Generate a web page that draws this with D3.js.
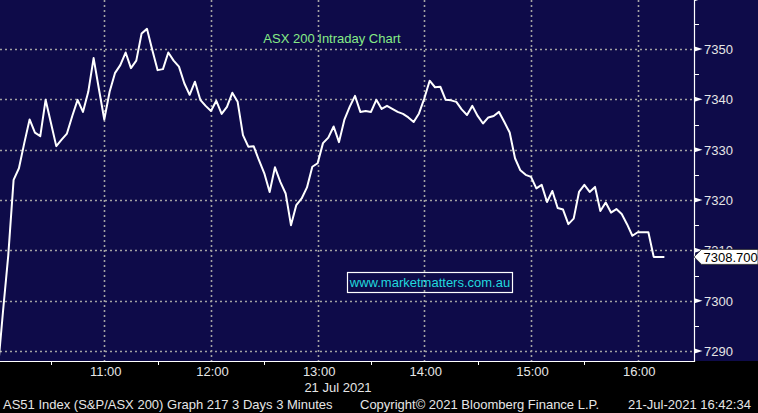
<!DOCTYPE html>
<html>
<head>
<meta charset="utf-8">
<script src="https://d3js.org/d3.v7.min.js"></script>
<style>
    html, body { margin: 0; padding: 0; background: #000; }
    svg { display: block; }
    text { font-family: "Liberation Sans", Arial, sans-serif; }
</style>
</head>
<body>
<svg id="chart" width="758" height="413"></svg>
<script>
/** ASX 200 index level, one reading every 3 minutes from 10:00 */
var prices = [
    7285.8, 7297.7, 7309.0, 7324.0, 7326.3, 7331.3, 7336.0, 7333.4, 7332.7, 7339.9,
    7335.3, 7330.7, 7332.0, 7333.2, 7336.7, 7339.9, 7337.5, 7341.5, 7348.2, 7342.0,
    7336.0, 7341.5, 7345.2, 7346.8, 7349.3, 7346.2, 7347.7, 7353.1, 7354.0, 7349.8,
    7345.8, 7346.0, 7349.3, 7347.7, 7346.5, 7343.2, 7340.9, 7343.5, 7339.9, 7338.7,
    7337.7, 7339.7, 7337.1, 7338.5, 7341.3, 7339.5, 7332.9, 7330.6, 7330.7, 7327.9,
    7325.3, 7321.6, 7326.5, 7323.6, 7321.3, 7315.0, 7319.0, 7320.3, 7322.5, 7326.6,
    7327.3, 7331.3, 7332.4, 7334.6, 7331.5, 7335.9, 7338.5, 7340.7, 7337.5, 7337.7,
    7337.5, 7339.9, 7338.1, 7338.7, 7338.1, 7337.5, 7337.1, 7336.4, 7335.5, 7337.2,
    7340.2, 7343.7, 7342.4, 7342.5, 7339.9, 7339.8, 7339.5, 7338.0, 7336.9, 7338.7,
    7336.7, 7335.2, 7336.4, 7336.7, 7337.5, 7335.5, 7333.4, 7328.3, 7325.9, 7325.0,
    7324.6, 7322.3, 7323.0, 7319.6, 7321.8, 7318.4, 7318.1, 7315.2, 7316.3, 7321.6,
    7323.0, 7321.6, 7322.6, 7317.8, 7319.5, 7317.5, 7318.2, 7317.2, 7315.2, 7312.9,
    7313.6, 7313.6, 7313.6, 7308.7, 7308.7, 7308.7
];

/** Session start and bar size */
var sessionStart = new Date(2021, 6, 21, 10, 0),
    barMinutes = 3;

/** Axis labels */
var hourLabels = ['11:00', '12:00', '13:00', '14:00', '15:00', '16:00'];
var halfHourLabels = ['10:30', '11:30', '12:30', '13:30', '14:30', '15:30'];
var levelTicks = [7290, 7300, 7310, 7320, 7330, 7340, 7350, 7360];
var minorLevelTicks = [7295, 7305, 7315, 7325, 7335, 7345, 7355];
var lastPrice = 7308.7;

var titleText = 'ASX 200 Intraday Chart',
    watermarkText = 'www.marketmatters.com.au',
    dateText = '21 Jul 2021',
    footerLeft = 'AS51 Index (S&P/ASX 200) Graph 217 3 Days 3 Minutes',
    footerMid = 'Copyright\u00a9 2021 Bloomberg Finance L.P.',
    footerRight = '21-Jul-2021 16:42:34';

/** Layout */
var plotRight = 694.5,
    plotBottom = 361;

var svg = d3.select('#chart');
var defs = svg.append('defs');

var parseHM = d3.timeParse('%Y-%m-%d %H:%M');
function hm(s) {
    return parseHM('2021-07-21 ' + s);
}

var x = d3.scaleTime()
    .domain([hm('10:00'), hm('16:00')])
    .range([-2.4, 637.7]);

var y = d3.scaleLinear()
    .domain([7290, 7350])
    .range([351, 49]);

var data = prices.map(function (p, i) {
    return {t: d3.timeMinute.offset(sessionStart, i * barMinutes), v: p};
});

var tagY = y(lastPrice),
    tagHalf = 7.5;

// backgrounds
svg.append('rect')
    .attr('width', 758).attr('height', 413)
    .attr('fill', '#000');
svg.append('rect')
    .attr('width', 758).attr('height', plotBottom)
    .attr('fill', '#0e0b49');

defs.append('clipPath').attr('id', 'plotClip')
    .append('rect')
    .attr('width', plotRight).attr('height', plotBottom);

// dotted grid
var grid = svg.append('g')
    .attr('stroke', '#a3a3a3')
    .attr('stroke-width', 1.6)
    .attr('stroke-dasharray', '2,3');

grid.selectAll('.hgrid').data(levelTicks.filter(function (d) { return d < 7355; }))
    .enter().append('line')
    .attr('x1', 0).attr('x2', plotRight)
    .attr('y1', function (d) { return Math.round(y(d)) + 0.5; })
    .attr('y2', function (d) { return Math.round(y(d)) + 0.5; });

grid.selectAll('.vgrid').data(hourLabels)
    .enter().append('line')
    .attr('x1', function (d) { return Math.round(x(hm(d))) + 0.5; })
    .attr('x2', function (d) { return Math.round(x(hm(d))) + 0.5; })
    .attr('y1', 0).attr('y2', plotBottom);

// title
svg.append('text')
    .attr('x', 332).attr('y', 43)
    .attr('text-anchor', 'middle')
    .attr('font-size', 13)
    .attr('fill', '#86ec86')
    .text(titleText);

// watermark box
svg.append('rect')
    .attr('x', 347.5).attr('y', 272.5)
    .attr('width', 165).attr('height', 20)
    .attr('fill', 'none')
    .attr('stroke', '#ffffff')
    .attr('stroke-width', 1.2);
svg.append('text')
    .attr('x', 430).attr('y', 287)
    .attr('text-anchor', 'middle')
    .attr('font-size', 13)
    .attr('fill', '#21d8de')
    .text(watermarkText);

// price line
var line = d3.line()
    .x(function (d) { return x(d.t); })
    .y(function (d) { return y(d.v); });

svg.append('path')
    .datum(data)
    .attr('clip-path', 'url(#plotClip)')
    .attr('d', line)
    .attr('fill', 'none')
    .attr('stroke', '#ffffff')
    .attr('stroke-width', 2)
    .attr('stroke-linejoin', 'round');

// axis lines
svg.append('line')
    .attr('x1', 0).attr('x2', plotRight)
    .attr('y1', plotBottom + 0.5).attr('y2', plotBottom + 0.5)
    .attr('stroke', '#ffffff').attr('stroke-width', 1.2);
svg.append('line')
    .attr('x1', plotRight).attr('x2', plotRight)
    .attr('y1', 0).attr('y2', plotBottom + 1)
    .attr('stroke', '#ffffff').attr('stroke-width', 1.2);

// bottom ticks at half hours
svg.selectAll('.xtick').data(halfHourLabels)
    .enter().append('line')
    .attr('x1', function (d) { return Math.round(x(hm(d))) + 0.5; })
    .attr('x2', function (d) { return Math.round(x(hm(d))) + 0.5; })
    .attr('y1', plotBottom).attr('y2', plotBottom + 4)
    .attr('stroke', '#ffffff').attr('stroke-width', 1);

svg.selectAll('.xlabel').data(hourLabels)
    .enter().append('text')
    .attr('x', function (d) { return x(hm(d)) + 1.5; })
    .attr('y', 376)
    .attr('text-anchor', 'middle')
    .attr('font-size', 13)
    .attr('fill', '#e6e6e6')
    .text(function (d) { return d; });

svg.append('text')
    .attr('x', 338).attr('y', 392)
    .attr('text-anchor', 'middle')
    .attr('font-size', 13)
    .attr('fill', '#e6e6e6')
    .text(dateText);

// right axis ticks: arrows on majors, short lines on minors
defs.append('clipPath').attr('id', 'rightClip')
    .append('rect').attr('x', plotRight).attr('width', 70).attr('height', plotBottom + 1);
// the label hidden behind the price tag only shows above it
defs.append('clipPath').attr('id', 'aboveTag')
    .append('rect').attr('x', plotRight).attr('width', 70).attr('height', tagY - tagHalf);

var yAxis = svg.append('g').attr('clip-path', 'url(#rightClip)');

yAxis.selectAll('.ytick').data(levelTicks)
    .enter().append('path')
    .attr('d', function (d) {
        var yy = y(d);
        return 'M' + plotRight + ',' + (yy - 2.5) + 'L' + (plotRight + 8) + ',' + yy +
            'L' + plotRight + ',' + (yy + 2.5) + 'Z';
    })
    .attr('fill', '#ffffff');

yAxis.selectAll('.yminor').data(minorLevelTicks)
    .enter().append('line')
    .attr('x1', plotRight).attr('x2', plotRight + 4.5)
    .attr('y1', function (d) { return Math.round(y(d)) + 0.5; })
    .attr('y2', function (d) { return Math.round(y(d)) + 0.5; })
    .attr('stroke', '#ffffff').attr('stroke-width', 1);

yAxis.selectAll('.ylabel').data(levelTicks.filter(function (d) { return d < 7355; }))
    .enter().append('text')
    .attr('x', 704)
    .attr('y', function (d) { return y(d) + 5; })
    .attr('font-size', 13)
    .attr('fill', '#e6e6e6')
    .attr('clip-path', function (d) {
        return Math.abs(y(d) - tagY) < 12 ? 'url(#aboveTag)' : null;
    })
    .text(function (d) { return d; });

// last price tag
svg.append('path')
    .attr('d', 'M' + (plotRight - 0.5) + ',' + tagY +
        'L' + (plotRight + 7) + ',' + (tagY - tagHalf) +
        'L758,' + (tagY - tagHalf) + 'L758,' + (tagY + tagHalf) +
        'L' + (plotRight + 7) + ',' + (tagY + tagHalf) + 'Z')
    .attr('fill', '#ffffff')
    .attr('stroke', '#222222')
    .attr('stroke-width', 0.8);
svg.append('text')
    .attr('x', 703.5).attr('y', tagY + 5)
    .attr('font-size', 13)
    .attr('fill', '#000000')
    .text(d3.format('.3f')(lastPrice));

// footer
var footer = [
    {text: footerLeft, x: 3},
    {text: footerMid, x: 360},
    {text: footerRight, x: 628}
];
svg.selectAll('.footer').data(footer)
    .enter().append('text')
    .attr('x', function (d) { return d.x; })
    .attr('y', 409)
    .attr('font-size', 13)
    .attr('fill', '#e6e6e6')
    .text(function (d) { return d.text; });
</script>
</body>
</html>
